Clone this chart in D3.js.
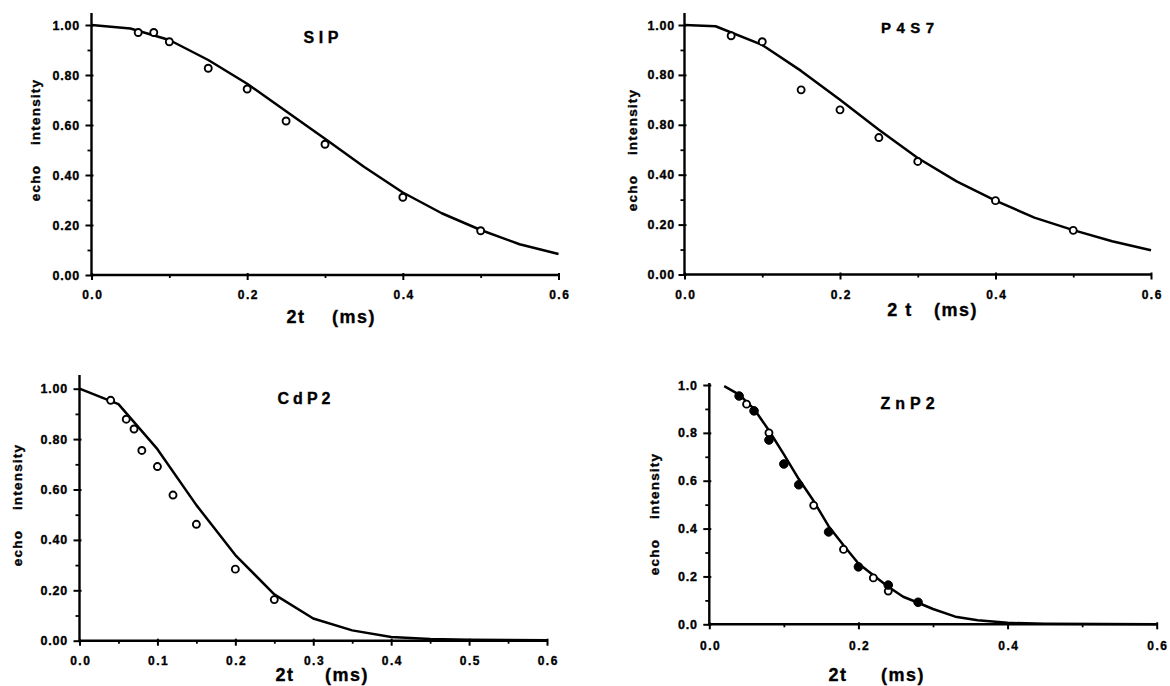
<!DOCTYPE html>
<html><head><meta charset="utf-8">
<script src="https://cdn.jsdelivr.net/npm/d3@7"></script>
<style>
body{margin:0;background:#fff}
svg text{font-family:"Liberation Sans",Arial,Helvetica,sans-serif;font-weight:bold;fill:#000;stroke:#000;stroke-width:0.35px}
</style>
</head><body>
<svg id="c" width="1170" height="686"></svg>
<script>
// ---------- data ----------
const sipX = [0.06,0.08,0.10,0.15,0.20,0.25,0.30,0.40,0.50];
const sipY = [0.97,0.97,0.933,0.827,0.744,0.616,0.523,0.311,0.177];
const sipFitX = [0,0.05,0.10,0.15,0.20,0.25,0.30,0.35,0.40,0.45,0.50,0.55,0.60];
const sipFitY = [1.00,0.986,0.94,0.86,0.765,0.655,0.545,0.433,0.33,0.247,0.18,0.123,0.084];

const p4s7X = [0.06,0.10,0.15,0.20,0.25,0.30,0.40,0.50];
const p4s7Y = [0.957,0.933,0.74,0.66,0.549,0.453,0.296,0.177];
const p4s7FitX = [0,0.04,0.10,0.15,0.20,0.25,0.30,0.35,0.40,0.45,0.50,0.55,0.60];
const p4s7FitY = [1.00,0.995,0.92,0.816,0.70,0.58,0.467,0.373,0.296,0.228,0.178,0.133,0.097];

const cdp2X = [0.04,0.06,0.07,0.08,0.10,0.12,0.15,0.20,0.25];
const cdp2Y = [0.954,0.879,0.84,0.755,0.691,0.578,0.462,0.284,0.163];
const cdp2FitX = [0,0.05,0.10,0.15,0.20,0.25,0.30,0.35,0.40,0.45,0.50,0.55,0.60];
const cdp2FitY = [1.00,0.939,0.76,0.538,0.34,0.184,0.088,0.041,0.015,0.007,0.004,0.003,0.002];

const znp2OpenX = [0.05,0.08,0.14,0.18,0.22,0.24];
const znp2OpenY = [0.92,0.80,0.497,0.313,0.194,0.139];
const znp2FilledX = [0.04,0.06,0.08,0.10,0.12,0.16,0.20,0.24,0.28];
const znp2FilledY = [0.954,0.892,0.77,0.67,0.583,0.386,0.24,0.164,0.092];
const znp2FitX = [0.02,0.04,0.06,0.08,0.10,0.12,0.14,0.16,0.18,0.20,0.22,0.24,0.26,0.28,0.30,0.33,0.36,0.40,0.45,0.60];
const znp2FitY = [0.995,0.96,0.90,0.81,0.71,0.607,0.515,0.41,0.33,0.254,0.205,0.157,0.115,0.09,0.064,0.032,0.017,0.006,0.002,0.0];

const yTicks2 = [0,0.2,0.4,0.6,0.8,1.0];
const yLabelsSIP = ["0.00","0.20","0.40","0.60","0.80","1.00"];
const yLabelsP4S7 = ["0.00","0.20","0.40","0.80","0.80","1.00"];
const yLabelsCdP2 = ["0.00","0.20","0.40","0.60","0.80","1.00"];
const yLabelsZnP2 = ["0.0","0.2","0.4","0.6","0.8","1.0"];
const xTicksA = [0,0.2,0.4,0.6];
const xLabelsA = ["0.0","0.2","0.4","0.6"];
const xTicksB = [0,0.1,0.2,0.3,0.4,0.5,0.6];
const xLabelsB = ["0.0","0.1","0.2","0.3","0.4","0.5","0.6"];
const yMinor = [0.1,0.3,0.5,0.7,0.9];
const xMinorA = [0.1,0.3,0.5];
const xMinorB = [0.05,0.15,0.25,0.35,0.45,0.55];

const zip = (a,b)=>a.map((v,i)=>[v,b[i]]);

// ---------- layout ----------
const panels = [
  {title:"SIP", tls:4.5, tx:321, ty:43, tfs:16,
   x0:91.5, x1:558.5, yTop:25, yBot:275, axisTop:13,
   xt:xTicksA, xl:xLabelsA, xm:xMinorA, yl:yLabelsSIP, xpad:10.5, ypad:5.5,
   ylabX:35.6, ylabY:140, xTitle:["2t","(ms)"], xTitleX:[296,354], xTitleY:323,
   fit:zip(sipFitX,sipFitY), open:zip(sipX,sipY), filled:[]},
  {title:"P4S7", tls:5.5, tx:907.5, ty:33, tfs:15,
   x0:684.5, x1:1151, yTop:25, yBot:274.5, axisTop:13,
   xt:xTicksA, xl:xLabelsA, xm:xMinorA, yl:yLabelsP4S7, xpad:10.5, ypad:3.5,
   ylabX:632, ylabY:150, xTitle:["2 t","(ms)"], xTitleX:[900,956], xTitleY:316,
   fit:zip(p4s7FitX,p4s7FitY), open:zip(p4s7X,p4s7Y), filled:[]},
  {title:"CdP2", tls:4, tx:304, ty:404, tfs:16,
   x0:79.5, x1:547, yTop:388.7, yBot:640.7, axisTop:375,
   xt:xTicksB, xl:xLabelsB, xm:xMinorB, yl:yLabelsCdP2, xpad:10.5, ypad:5.5,
   ylabX:17, ylabY:505, xTitle:["2t","(ms)"], xTitleX:[285,347], xTitleY:681,
   fit:zip(cdp2FitX,cdp2FitY), open:zip(cdp2X,cdp2Y), filled:[]},
  {title:"ZnP2", tls:5, tx:907.5, ty:409, tfs:16,
   x0:709.3, x1:1156.7, yTop:385, yBot:624.3, axisTop:383,
   xt:xTicksA, xl:xLabelsA, xm:xMinorA, yl:yLabelsZnP2, xpad:12.5, ypad:5.5,
   ylabX:654.4, ylabY:514, xTitle:["2t","(ms)"], xTitleX:[838,903], xTitleY:681,
   fit:zip(znp2FitX,znp2FitY), open:zip(znp2OpenX,znp2OpenY), filled:zip(znp2FilledX,znp2FilledY)}
];

const svg = d3.select("#c");
const FF = "Liberation Sans, Arial, sans-serif";

panels.forEach(p=>{
  const x = d3.scaleLinear().domain([0,0.6]).range([p.x0,p.x1]);
  const y = d3.scaleLinear().domain([0,1]).range([p.yBot,p.yTop]);
  const g = svg.append("g");

  // y minor ticks
  const ym = g.append("g").attr("transform",`translate(${p.x0},0)`)
    .call(d3.axisLeft(y).tickValues(yMinor).tickSize(4).tickFormat(""));
  ym.select(".domain").remove();
  ym.selectAll("line").attr("stroke-width",1.8);

  // y major
  const ya = g.append("g").attr("transform",`translate(${p.x0},0)`)
    .call(d3.axisLeft(y).tickValues(yTicks2).tickSize(6).tickPadding(p.ypad)
      .tickFormat((d,i)=>p.yl[i]));
  ya.select(".domain").remove();
  ya.selectAll("line").attr("x1",2).attr("stroke-width",2);
  ya.selectAll("text").attr("font-size",12.5).attr("letter-spacing","0.8px")
    .attr("font-family",FF).attr("font-weight","bold");

  // x minor
  const xm = g.append("g").attr("transform",`translate(0,${p.yBot})`)
    .call(d3.axisBottom(x).tickValues(p.xm).tickSize(3).tickFormat(""));
  xm.select(".domain").remove();
  xm.selectAll("line").attr("stroke-width",1.8);

  // x major
  const xa = g.append("g").attr("transform",`translate(0,${p.yBot})`)
    .call(d3.axisBottom(x).tickValues(p.xt).tickSize(5).tickPadding(p.xpad)
      .tickFormat((d,i)=>p.xl[i]));
  xa.select(".domain").remove();
  xa.selectAll("line").attr("y1",-2).attr("stroke-width",2);
  xa.selectAll("text").attr("font-size",12).attr("letter-spacing","1.5px").attr("dx","0.75px")
    .attr("font-family",FF).attr("font-weight","bold");

  // axis lines
  g.append("line").attr("x1",p.x0).attr("x2",p.x0).attr("y1",p.yBot+1).attr("y2",p.axisTop)
    .attr("stroke","#000").attr("stroke-width",2.4);
  g.append("line").attr("x1",p.x0-1).attr("x2",p.x1).attr("y1",p.yBot).attr("y2",p.yBot)
    .attr("stroke","#000").attr("stroke-width",2.4);

  // fit curve
  const line = d3.line().x(d=>x(d[0])).y(d=>y(d[1]));
  g.append("path").attr("d", line(p.fit))
    .attr("fill","none").attr("stroke","#000").attr("stroke-width",2.5).attr("stroke-linejoin","round");

  // open points
  g.selectAll("circle.o").data(p.open).join("circle").attr("class","o")
    .attr("cx",d=>x(d[0])).attr("cy",d=>y(d[1])).attr("r",3.5)
    .attr("fill","#fff").attr("stroke","#000").attr("stroke-width",1.9);
  // filled points
  g.selectAll("circle.f").data(p.filled).join("circle").attr("class","f")
    .attr("cx",d=>x(d[0])).attr("cy",d=>y(d[1])).attr("r",4.3)
    .attr("fill","#000").attr("stroke","#000").attr("stroke-width",1);

  // title
  g.append("text").attr("x",p.tx + p.tls/2).attr("y",p.ty).attr("text-anchor","middle")
    .attr("font-size",p.tfs).attr("letter-spacing",p.tls+"px").text(p.title);

  // y label
  g.append("text").attr("transform",`translate(${p.ylabX},${p.ylabY}) rotate(-90)`)
    .attr("text-anchor","middle").attr("dy","0.35em").attr("font-size",13.5)
    .attr("letter-spacing","1.2px").style("white-space","pre").text("echo    intensity");

  // x title
  p.xTitle.forEach((t,i)=>{
    g.append("text").attr("x",p.xTitleX[i]).attr("y",p.xTitleY).attr("text-anchor","middle")
      .attr("font-size",18).attr("letter-spacing","1.5px").style("white-space","pre").text(t);
  });
});
</script>
</body></html>
